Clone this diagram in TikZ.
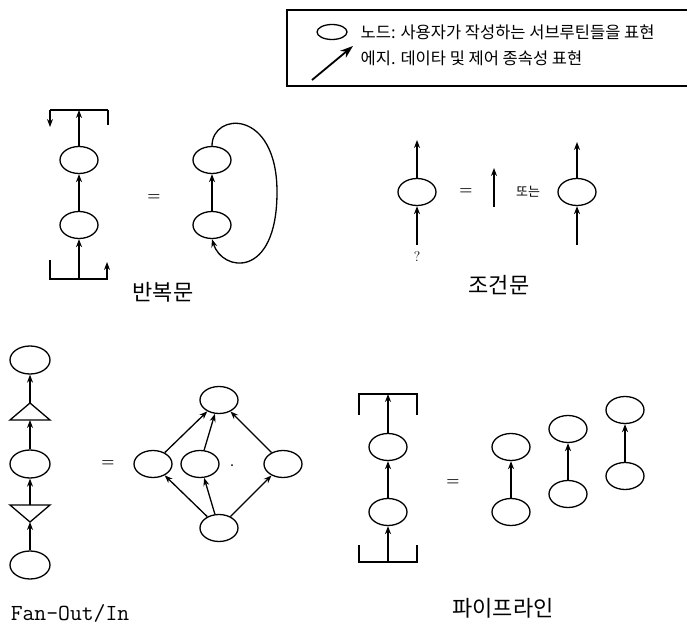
\documentclass[tikz,border=0pt]{standalone}
\usepackage{fontspec}
\newfontfamily\kr{Noto Sans CJK KR}
\usetikzlibrary{shapes.geometric,arrows.meta}
\begin{document}
\begin{tikzpicture}[x=1pt,y=-1pt, line width=1.3pt, >={Stealth[length=8pt,width=6pt]},
  nd/.style={ellipse,draw,minimum width=38pt,minimum height=27pt,inner sep=0pt},
  lbl/.style={font=\kr\fontsize{22}{24}\selectfont},
  leg/.style={font=\kr\fontsize{16.5}{18}\selectfont,anchor=west,inner sep=0pt},
  eq/.style={font=\bfseries\fontsize{15}{16}\selectfont}]
\useasboundingbox (0,0) rectangle (687,628);

% legend
\draw (690,10) -| (287,86) -- (690,86);
\node[nd,minimum width=30pt,minimum height=15pt] (lg) at (332,32) {};
\node[leg] (lt1) at (360,32) {노드: 사용자가 작성하는 서브루틴들을 표현};
\coordinate (la0) at (312,80);
\coordinate (la1) at (353,46);
\draw[-{Stealth[length=13pt,width=9pt]},line width=1.8pt] (la0) -- (la1);
\node[leg] (lt2) at (360,58) {에지. 데이타 및 제어 종속성 표현};

% loop
\node[nd] (a1) at (79,160) {};
\node[nd] (a2) at (79,225) {};
\draw[->] (a2) -- (a1);
\coordinate (at) at (79,110);
\coordinate (atl) at (50,110);
\coordinate (atr) at (108,110);
\draw[->] (a1) -- (at);
\draw (atl) -- (atr);
\draw[->] (atl) -- (50,127);
\draw (atr) -- (108,125);
\coordinate (ab) at (79,279);
\draw[->] (ab) -- (a2);
\draw[->] (50,260) |- (107,279) -- (107,262);
\node[eq] (eq1) at (154,198) {=};
\node[nd] (b1) at (212,160) {};
\node[nd] (b2) at (212,225) {};
\draw[->] (b2) -- (b1);
\coordinate (bc) at (277,192);
\draw[->] (b1.north) .. controls (212,112) and (277,108) .. (bc)
  .. controls (277,280) and (222,272) .. (b2.south);
\node[lbl] (l1) at (163,292) {반복문};

% conditional
\node[nd] (c1) at (417,192) {};
\coordinate (c1t) at (417,140);
\coordinate (c1b) at (417,245);
\draw[->] (c1) -- (c1t);
\draw[->] (c1b) -- (c1);
\node[font=\fontsize{14}{15}\selectfont] (q) at (417,257) {?};
\node[eq] (eq2) at (466,192) {=};
\coordinate (ca0) at (494,207);
\coordinate (ca1) at (494,168);
\draw[->] (ca0) -- (ca1);
\node[font=\kr\fontsize{13}{14}\selectfont] (or) at (528,192) {또는};
\node[nd] (c2) at (577,192) {};
\coordinate (c2t) at (577,142);
\coordinate (c2b) at (577,245);
\draw[->] (c2) -- (c2t);
\draw[->] (c2b) -- (c2);
\node[lbl] (l2) at (499,285) {조건문};

% fan-out/in
\node[nd,minimum width=40pt,minimum height=28pt] (f1) at (30,360) {};
\node[nd,minimum width=40pt,minimum height=28pt] (f2) at (30,464) {};
\node[nd,minimum width=40pt,minimum height=28pt] (f3) at (30,565) {};
\coordinate (tua) at (30,403);
\coordinate (tub) at (30,420);
\draw (tua) -- (10,420) -- (50,420) -- cycle;
\coordinate (tda) at (30,522);
\coordinate (tdb) at (30,505);
\draw (tda) -- (10,505) -- (50,505) -- cycle;
\draw[->] (tua) -- (f1);
\draw[->] (f2) -- (tub);
\draw[->] (tdb) -- (f2);
\draw[->] (f3) -- (tda);
\node[eq] (eq3) at (108,464) {=};
\node[nd] (gt) at (219,400) {};
\node[nd] (gl) at (153,464) {};
\node[nd] (gm) at (200,464) {};
\node[nd] (gr) at (283,464) {};
\node[nd] (gb) at (219,528) {};
\fill (232,465) circle (1pt);
\draw[->] (gb) -- (gl);
\draw[->] (gb) -- (gm);
\draw[->] (gb) -- (gr);
\draw[->] (gl) -- (gt);
\draw[->] (gm) -- (gt);
\draw[->] (gr) -- (gt);
\node[font=\ttfamily\fontsize{23}{25}\selectfont] (l3) at (70,613) {Fan-Out/In};

% pipeline
\node[nd] (p1) at (388,447) {};
\node[nd] (p2) at (388,512) {};
\draw[->] (p2) -- (p1);
\coordinate (pt) at (388,394);
\draw[->] (p1) -- (pt);
\draw (359,415) |- (417,394) -- (417,415);
\coordinate (pb) at (388,562);
\draw[->] (pb) -- (p2);
\draw (359,545) |- (417,562) -- (417,545);
\node[eq] (eq4) at (453,483) {=};
\node[nd] (q1t) at (511,447) {};
\node[nd] (q1b) at (511,512) {};
\node[nd] (q2t) at (568,429) {};
\node[nd] (q2b) at (568,494) {};
\node[nd] (q3t) at (625,410) {};
\node[nd] (q3b) at (625,476) {};
\draw[->] (q1b) -- (q1t);
\draw[->] (q2b) -- (q2t);
\draw[->] (q3b) -- (q3t);
\node[lbl] (l4) at (503,608) {파이프라인};
\end{tikzpicture}
\end{document}
